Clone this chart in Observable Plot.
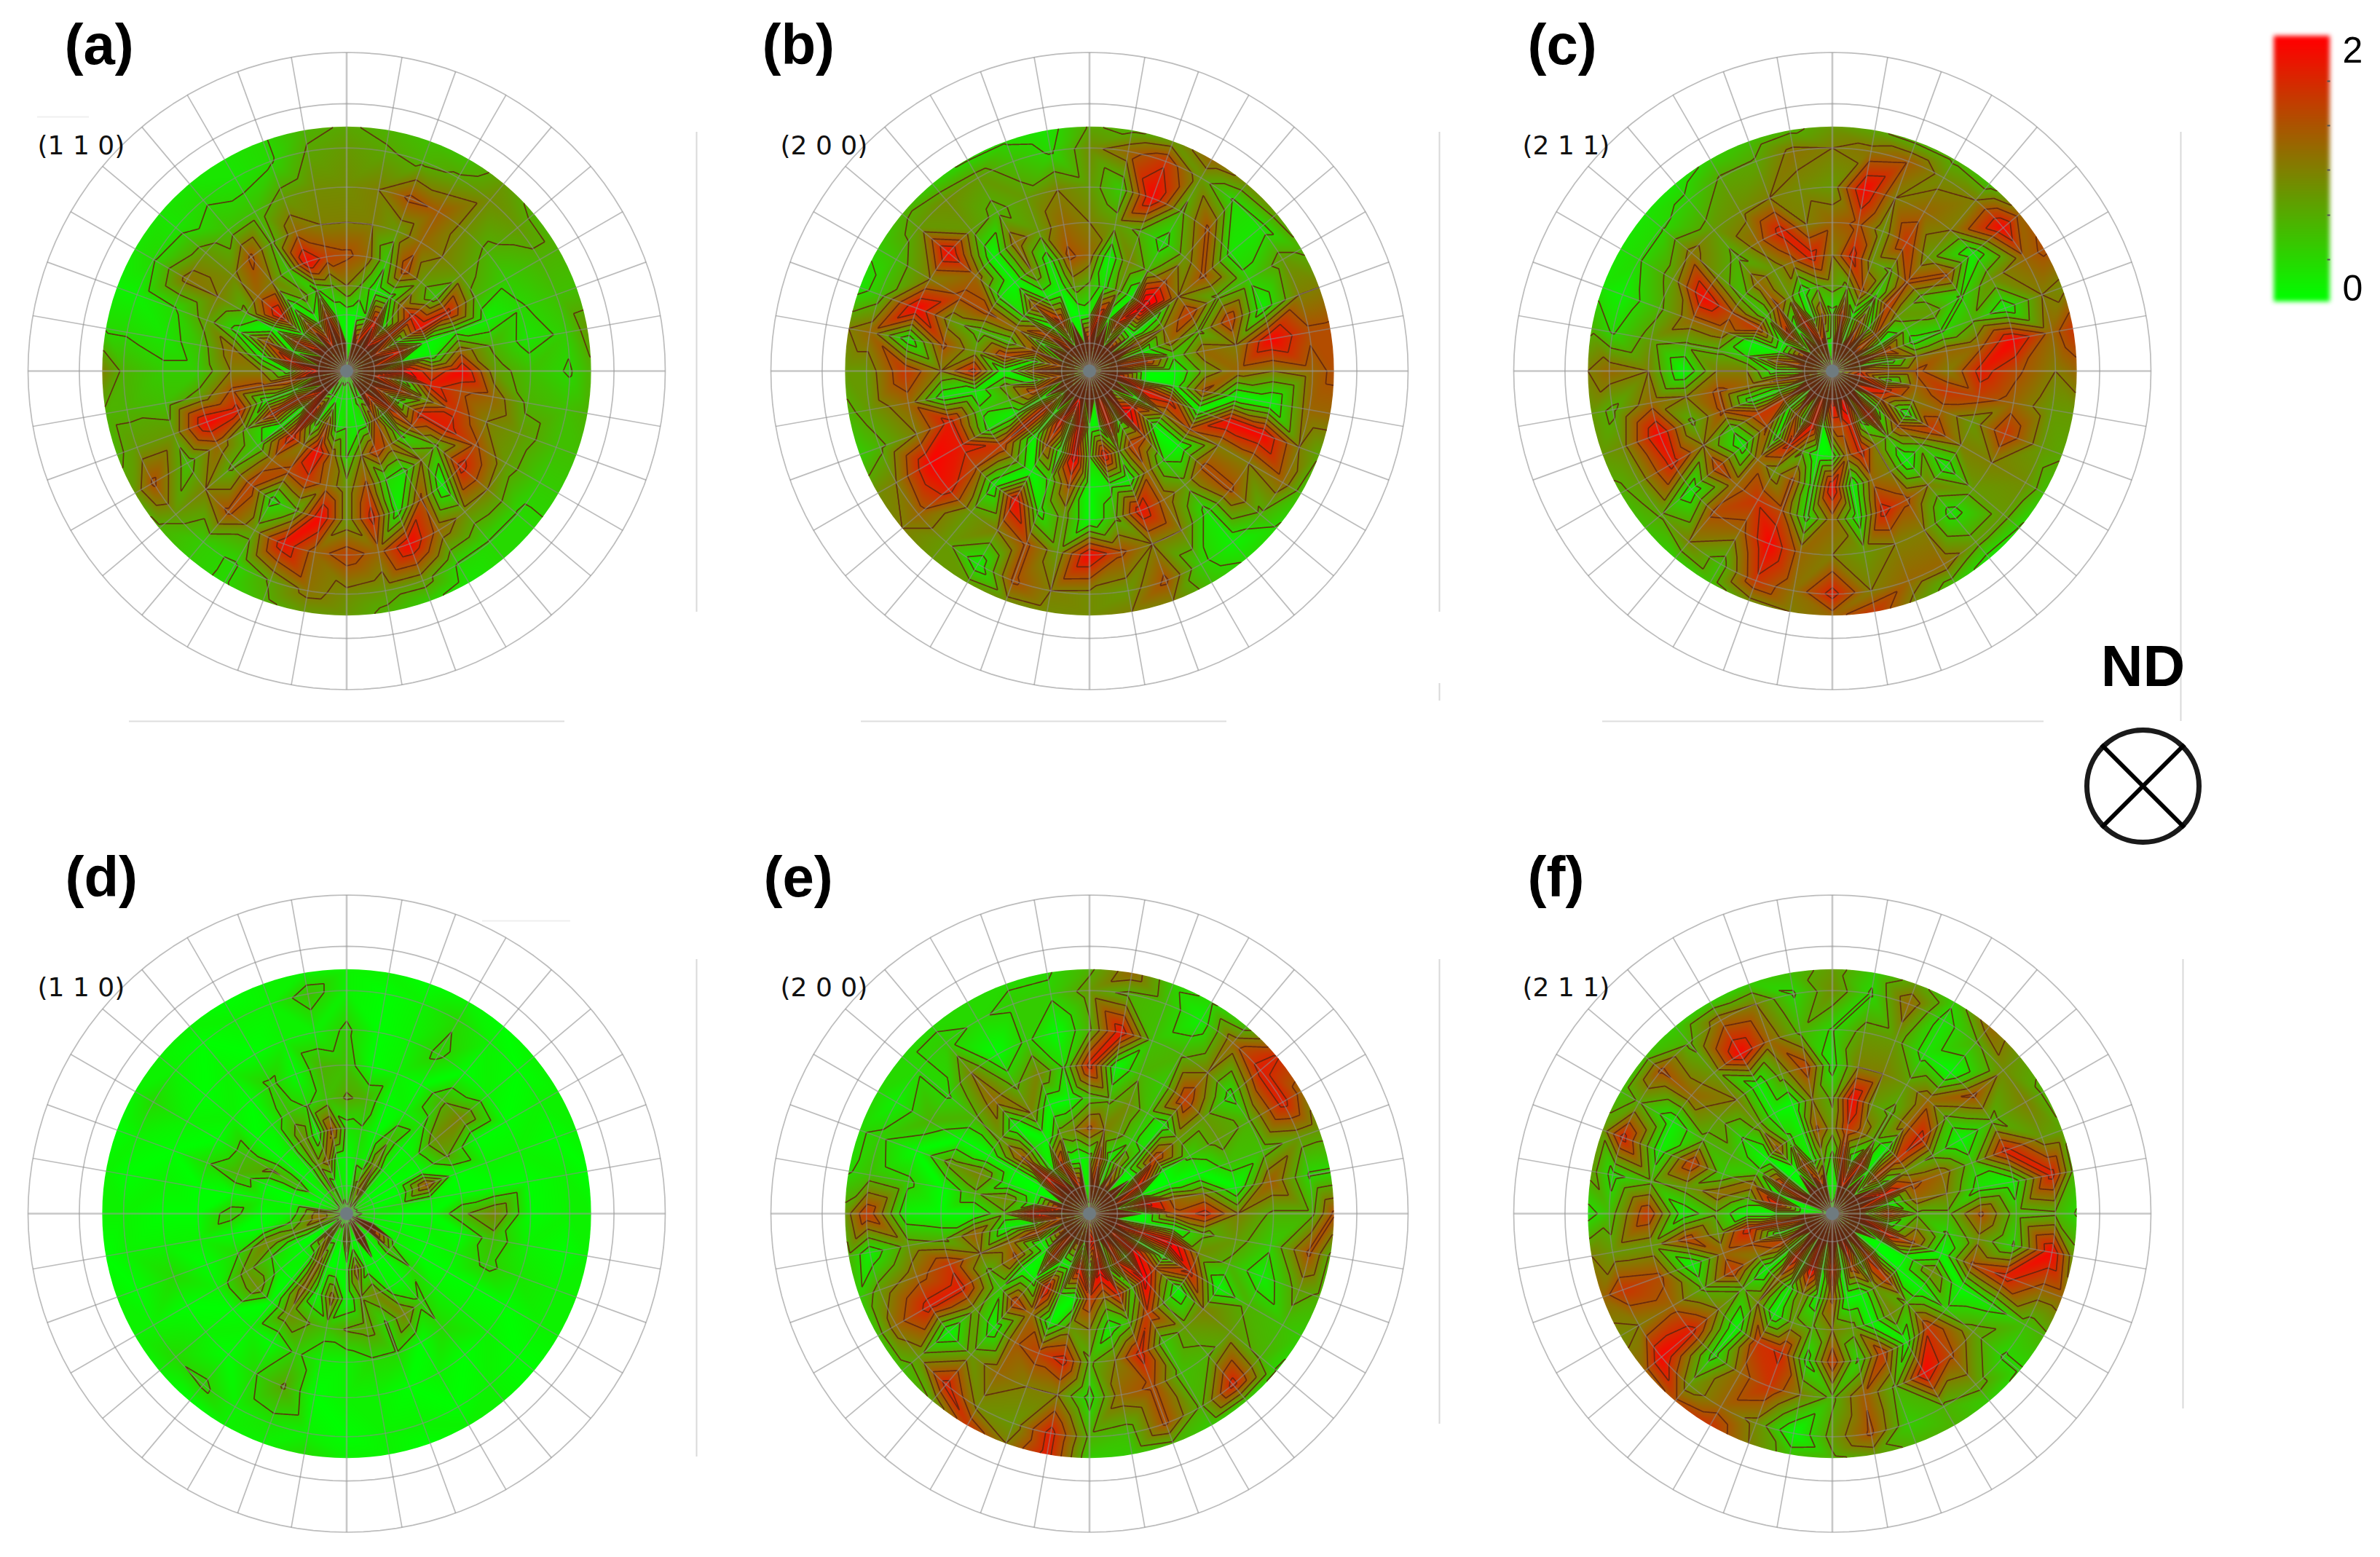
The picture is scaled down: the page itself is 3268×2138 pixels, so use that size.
<!DOCTYPE html>
<html><head><meta charset="utf-8">
<style>html,body{margin:0;padding:0;background:#fff;overflow:hidden}svg{display:block}</style>
<script src="https://cdn.jsdelivr.net/npm/d3@7"></script>
<script src="https://cdn.jsdelivr.net/npm/@observablehq/plot@0.6"></script>
</head><body>
<script>
// Tilt angle of each sampled ring (degrees); azimuth steps 10 deg clockwise from the top.
const ringTilts = [10,20,30,40,50,60,70,75];
// Intensity x10, one row per ring, 36 azimuths per row.
const panelA = [
[0,1,20,1,22,1, 18,1,20,2,20,1, 18,1,20,1,4,1, 1,2,1,4,1,22, 1,20,2,24,1,20, 1,22,2,20,1,18],
[1,0,3,20,1,18, 2,20,1,22,1,18, 1,18,1,14,2,1, 3,1,14,1,22,0, 18,1,16,1,20,0, 18,1,16,1,18,1],
[10,6,1,2,12,18, 20,0,1,14,18,8, 18,14,3,12,16,10, 3,12,20,10,19,0, 18,1,14,10,1,14, 0,20,1,8,3,6],
[14,12,4,15,8,4, 18,2,12,20,14,16, 18,6,10,2,3,14, 8,12,16,14,12,4, 6,18,14,10,12,2, 6,12,10,4,20,15],
[10,10,8,12,10,8, 6,1,6,8,12,10, 14,18,0,14,1,18, 8,20,6,2,15,6, 12,20,8,4,5,8, 10,9,14,6,12,10],
[9,10,14,13,9,6, 4,3,2,5,6,8, 8,10,9,12,20,12, 15,12,19,8,14,10, 5,8,5,4,2,3, 11,8,5,5,8,9],
[8,7,6,7,9,8, 6,5,4,3,5,5, 4,3,3,3,8,8, 9,11,7,3,4,8, 14,8,6,6,3,1, 3,2,3,2,3,7],
[7,6,5,5,8,6, 6,5,8,6,6,5, 4,3,3,2,4,6, 8,8,6,3,4,6, 8,6,6,10,3,1, 2,2,2,2,3,6]];
const panelB = [
[22,2,24,1,22,1, 20,2,18,1,22,1, 20,1,24,2,20,1, 22,1,24,1,20,2, 18,1,16,1,16,1, 18,2,20,1,22,1],
[1,20,0,18,1,0, 14,0,18,0,0,20, 0,18,24,1,20,1, 0,22,1,20,0,18, 0,16,1,14,1,14, 1,16,0,18,1,0],
[6,2,8,0,26,1, 10,12,4,0,1,18, 10,0,14,16,6,20, 3,22,0,14,0,18, 1,6,8,0,16,4, 12,3,14,1,0,8],
[12,0,10,6,14,10, 16,6,12,8,14,0, 14,0,3,12,0,2, 0,14,4,0,8,16, 2,4,1,18,8,5, 14,2,0,10,1,14],
[10,8,6,2,8,14, 6,16,10,12,0,20, 10,14,8,12,19,6, 0,8,2,20,1,14, 18,18,1,10,14,8, 14,12,0,12,8,12],
[8,4,20,6,14,2, 4,1,20,10,0,20, 10,14,2,10,10,14, 20,8,14,10,8,18, 20,10,12,16,1,20, 10,20,8,6,8,10],
[9,12,16,8,3,2, 8,10,14,12,12,10, 12,6,1,4,14,8, 9,10,14,1,8,12, 10,6,8,8,12,5, 5,8,9,8,5,3],
[7,6,8,12,9,8, 6,10,14,14,12,7, 5,3,3,5,10,10, 9,9,9,8,8,10, 9,4,6,8,10,2, 4,6,4,3,3,2]];
const panelC = [
[1,18,1,20,1,18, 2,18,0,16,20,1, 20,1,22,1,24,1, 22,1,20,2,24,1, 20,1,16,2,18,1, 20,1,16,2,18,1],
[2,18,1,14,1,14, 0,16,1,14,2,18, 14,1,22,2,18,14, 14,0,20,1,14,1, 16,1,14,1,14,1, 0,18,0,20,1,14],
[8,6,14,3,16,8, 5,2,10,14,12,10, 0,14,6,10,18,12, 1,0,6,18,1,14, 16,1,12,10,3,0, 16,4,14,8,1,6],
[10,18,8,6,14,6, 8,3,12,10,16,12, 16,6,0,10,12,0, 20,2,14,8,12,1, 4,14,14,10,6,12, 14,5,12,8,12,18],
[12,14,8,16,8,14, 3,6,12,18,15,8, 10,1,10,14,18,1, 12,2,14,16,12,16, 10,6,10,0,6,12, 20,8,6,12,18,10],
[8,20,10,12,10,1, 9,1,20,14,12,16, 10,8,2,10,10,8, 10,12,20,12,14,1, 18,20,12,10,8,6, 8,11,8,9,10,9],
[10,11,13,9,10,20, 12,10,12,10,8,8, 9,8,8,12,12,10, 18,11,16,5,10,7, 8,9,6,12,3,1, 3,3,4,7,7,11],
[8,7,6,6,5,12, 14,9,16,12,8,7, 5,3,2,5,9,16, 12,10,9,5,4,5, 6,8,8,10,6,2, 2,2,2,4,5,6]];
const panelD = [
[0,0,8,12,2,0, 0,1,0,2,1,0, 20,1,0,18,0,0, 10,0,2,1,12,1, 0,8,12,12,2,0, 0,0,3,7,0,2],
[0,2,1,10,1,0, 0,0,2,0,0,1, 1,6,0,0,1,12, 1,0,0,12,1,0, 0,8,4,1,0,0, 6,0,1,8,12,1],
[2,3,0,6,0,1, 0,14,1,0,1,0, 0,3,0,1,10,7, 0,12,0,12,0,1, 3,10,0,0,1,0, 7,0,2,9,0,14],
[7,6,0,1,2,9, 7,0,0,6,0,1, 0,1,4,10,3,8, 7,5,7,9,0,9, 8,3,0,5,0,6, 5,0,1,5,3,5],
[5,0,1,0,6,10, 0,1,0,10,5,4, 0,1,3,0,3,3, 1,1,4,0,1,0, 1,0,1,0,0,3, 0,1,0,4,0,6],
[4,0,1,4,0,1, 0,1,0,0,1,2, 0,1,0,1,0,1, 1,0,7,3,0,1, 0,3,1,0,1,0, 1,0,1,0,1,1],
[1,0,1,3,1,0, 1,0,1,1,0,1, 1,0,1,0,1,1, 0,1,2,1,4,3, 1,0,1,1,0,1, 3,1,0,1,1,5],
[1,1,0,1,0,1, 1,1,0,1,1,1, 1,0,1,1,0,1, 1,3,1,1,0,1, 1,1,0,1,1,0, 1,1,1,0,1,1]];
const panelE = [
[1,20,1,18,1,22, 0,20,1,22,1,24, 1,20,1,22,0,18, 24,1,16,1,20,1, 18,1,16,0,20,1, 18,1,22,1,20,1],
[2,16,1,10,1,0, 20,0,22,0,0,20, 0,22,0,18,2,22, 1,20,1,0,18,1, 0,16,1,22,1,0, 0,20,1,18,1,0],
[14,10,8,4,2,16, 0,0,12,14,0,24, 0,14,22,4,18,10, 16,0,3,20,1,0, 14,12,0,6,10,1, 0,14,3,0,8,10],
[5,6,9,5,1,8, 4,0,10,18,6,9, 18,0,6,16,5,1, 10,8,0,12,16,4, 6,10,13,0,6,10, 0,8,0,10,0,0],
[18,0,6,4,16,8, 8,5,0,10,8,6, 0,10,8,4,18,10, 6,18,15,13,1,8, 18,16,6,0,0,8, 0,6,12,6,10,3],
[6,19,5,6,10,2, 6,5,13,6,4,1, 6,8,6,5,14,12, 2,10,10,12,8,0, 18,12,8,1,4,0, 6,3,10,0,4,0],
[8,6,5,1,12,18, 18,8,3,6,14,8, 5,6,18,6,14,5, 6,18,8,9,18,8, 12,8,1,16,5,4, 1,3,4,3,4,4],
[6,12,4,3,5,17, 12,8,3,14,6,6, 4,3,4,4,6,4, 4,18,10,16,7,5, 5,4,6,8,3,3, 3,3,3,3,3,3]];
const panelF = [
[1,2,20,0,18,1, 22,0,20,2,22,1, 18,1,20,1,24,1, 24,1,22,0,22,1, 22,1,18,0,0,1, 20,1,22,1,18,1],
[2,18,0,20,0,16, 1,20,0,18,1,20, 0,0,18,1,16,0, 20,0,22,0,20,1, 16,0,18,0,20,0, 18,0,0,16,1,8],
[8,16,12,6,0,16, 8,14,12,6,10,14, 1,0,16,8,0,0, 14,1,10,1,12,0, 10,14,18,0,6,12, 4,0,14,4,1,14],
[6,20,8,6,12,18, 6,12,10,6,3,0, 10,0,6,10,0,8, 10,6,8,0,10,6, 16,12,8,6,12,4, 6,3,8,1,0,10],
[2,10,10,8,12,6, 0,5,2,14,9,14, 0,4,16,1,16,3, 16,2,17,16,0,10, 6,0,15,1,8,16, 6,8,10,1,8,15],
[3,8,8,2,0,14, 6,18,1,5,3,18, 2,8,14,20,6,13, 6,10,16,12,2,18, 12,14,8,16,6,1, 1,12,8,20,12,6],
[9,3,12,2,6,9, 10,8,18,6,20,12, 5,3,8,6,4,14, 8,0,9,12,8,20, 10,16,8,5,2,18, 7,14,6,12,10,3],
[8,4,8,4,12,8, 6,7,6,3,8,12, 6,3,4,6,6,8, 6,5,10,16,14,12, 9,12,10,2,8,8, 5,5,4,4,4,5]];
const panelMatrices = [panelA,panelB,panelC,panelD,panelE,panelF];
const panelLetters = ["(a)","(b)","(c)","(d)","(e)","(f)"];
const planeLabels = ["(1 1 0)","(2 0 0)","(2 1 1)","(1 1 0)","(2 0 0)","(2 1 1)"];

// Layout
const W = 3268, H = 2138, NET = 437.5;
const colX = [475.5,1495.5,2515.5], rowY = [509,1666];
const centers = [0,1,2,3,4,5].map(i => ({cx: colX[i%3], cy: rowY[i<3?0:1]}));
const letterX = [88,1046,2097,89,1048,2097], letterY = [87,87,87,1230,1230,1230];
const labelX = [51,1071,2090,51,1071,2090], labelY = [211,211,211,1367,1367,1367];
const strayV = [
 {x:956,y1:181,y2:840},{x:1976,y1:181,y2:840},{x:2994,y1:181,y2:990},
 {x:956,y1:1317,y2:2000},{x:1976,y1:1317,y2:1955},{x:2997,y1:1317,y2:1934},{x:1976,y1:938,y2:962}];
const strayH = [
 {y:990,x1:177,x2:775},{y:990,x1:1182,x2:1684},{y:990,x1:2200,x2:2806}];
const faintH = [{y:160,x1:51,x2:122},{y:1264,x1:662,x2:783}];
const ringGrid = [10,20,30,40,50,60,70,80,90];
const spokeAngles = d3.range(0,360,10);

const rad = d => d*Math.PI/180;
const netR = tilt => Math.tan(rad(tilt)/2);
const px = (c,r,a) => c.cx + NET*r*Math.sin(rad(a));
const py = (c,r,a) => c.cy - NET*r*Math.cos(rad(a));
const DISK = netR(75);

const marks = [];
panelMatrices.forEach((m,p) => {
  const c = centers[p];
  const pts = [{x:c.cx,y:c.cy,v:0.5}];
  m.forEach((row,k) => row.forEach((val,i) => {
    const r = netR(ringTilts[k]), a = i*10;
    pts.push({x:px(c,r,a),y:py(c,r,a),v:val/10});
  }));
  const b = NET*DISK+3;
  const box = {x1:c.cx-b,x2:c.cx+b,y1:c.cy-b,y2:c.cy+b};
  marks.push(Plot.raster(pts,{x:"x",y:"y",fill:"v",interpolate:"barycentric",pixelSize:1,imageFilter:"blur(2.5px)",...box}));
  marks.push(Plot.contour(pts,{x:"x",y:"y",value:"v",interpolate:"barycentric",thresholds:d3.range(1,14).map(k=>k/3),
    stroke:"#5e2410",strokeWidth:1.7,strokeOpacity:.88,fill:"none",pixelSize:1,...box}));
  // net: rings and spokes
  ringGrid.forEach(t => {
    const ring = d3.range(0,361,3).map(a => ({x:px(c,netR(t),a),y:py(c,netR(t),a)}));
    marks.push(Plot.line(ring,{x:"x",y:"y",stroke:"#8c8c8c",strokeWidth:1.7,strokeOpacity:.58}));
  });
  spokeAngles.forEach(a => {
    const card = a%90===0;
    marks.push(Plot.link([{x1:c.cx,y1:c.cy,x2:px(c,1,a),y2:py(c,1,a)}],{x1:"x1",y1:"y1",x2:"x2",y2:"y2",
      stroke:card?"#9a9a9a":"#8c8c8c",strokeWidth:card?2.6:1.7,strokeOpacity:card?.55:.58}));
  });
  marks.push(Plot.dot([c],{x:"cx",y:"cy",r:9,fill:"#6f7b80",stroke:"none"}));
  marks.push(Plot.text([panelLetters[p]],{x:()=>letterX[p],y:()=>letterY[p],text:d=>d,textAnchor:"start",lineAnchor:"bottom",
    fontFamily:"Liberation Sans",fontWeight:"bold",fontSize:78,fill:"#000"}));
  marks.push(Plot.text([planeLabels[p]],{x:()=>labelX[p],y:()=>labelY[p],text:d=>d,textAnchor:"start",lineAnchor:"bottom",
    fontFamily:"DejaVu Sans",fontSize:36,fill:"#111"}));
});

// Stray frame remnants
marks.push(Plot.ruleX(strayV,{x:"x",y1:"y1",y2:"y2",stroke:"#d9d9d9",strokeWidth:2}));
marks.push(Plot.ruleY(strayH,{y:"y",x1:"x1",x2:"x2",stroke:"#dedede",strokeWidth:2}));
marks.push(Plot.ruleY(faintH,{y:"y",x1:"x1",x2:"x2",stroke:"#efefef",strokeWidth:2}));

// Colour bar
const legendValues = [0,2];
const legendBox = {x1:3122,x2:3199,y0:410,y2:53};
const yBar = v => legendBox.y0 + (legendBox.y2-legendBox.y0)*v/2;
const barSteps = d3.range(0,2.02,0.02);
const barTicks = [111,172,233,295,356];
marks.push(Plot.rect(barSteps,{x1:()=>legendBox.x1,x2:()=>legendBox.x2,y1:v=>yBar(v)+4,y2:v=>yBar(v)-4,fill:v=>v,imageFilter:"blur(3px)"}));
marks.push(Plot.link(barTicks,{x1:()=>3195,x2:()=>3199,y1:d=>d,y2:d=>d,stroke:"#555",strokeWidth:2}));
marks.push(Plot.text(legendValues,{x:()=>3230,y:v=>v===2?69:396,text:String,fontFamily:"Liberation Sans",fontSize:50,fill:"#000",textAnchor:"middle",lineAnchor:"middle"}));

// Normal-direction symbol
const ndCentre = {x:2942,y:1079}, ndArm = 57;
marks.push(Plot.text(["ND"],{x:()=>ndCentre.x,y:()=>916,text:d=>d,fontFamily:"Liberation Sans",fontWeight:"bold",fontSize:80,fill:"#000",textAnchor:"middle",lineAnchor:"middle"}));
marks.push(Plot.dot([ndCentre],{x:"x",y:"y",r:77,fill:"none",stroke:"#1a1a1a",strokeWidth:7}));
marks.push(Plot.link([[-1,-1],[1,-1]],{x1:d=>ndCentre.x+d[0]*ndArm,y1:d=>ndCentre.y+d[1]*ndArm,x2:d=>ndCentre.x-d[0]*ndArm,y2:d=>ndCentre.y-d[1]*ndArm,stroke:"#000",strokeWidth:6}));

const svg = Plot.plot({
  width:W,height:H,margin:0,
  style:{background:"#fff"},
  x:{domain:[0,W],range:[0,W],axis:null},
  y:{domain:[0,H],range:[0,H],axis:null},
  color:{type:"linear",domain:[0,2],range:["#00ff00","#ff0000"],interpolate:"rgb",clamp:true},
  marks
});
document.body.appendChild(svg);

// Clip each panel's field to its measured disk (tilt 75 deg).
const sel = d3.select(svg);
const defs = sel.append("defs");
centers.forEach((c,i) => {
  defs.append("clipPath").attr("id","disk"+i).append("circle")
    .attr("cx",svg.scale("x").apply(c.cx)).attr("cy",svg.scale("y").apply(c.cy)).attr("r",NET*DISK);
});
svg.querySelectorAll('[aria-label="raster"],[aria-label="contour"]').forEach((g,i) => {
  g.setAttribute("clip-path",`url(#disk${Math.floor(i/2)})`);
});
</script>
</body></html>
